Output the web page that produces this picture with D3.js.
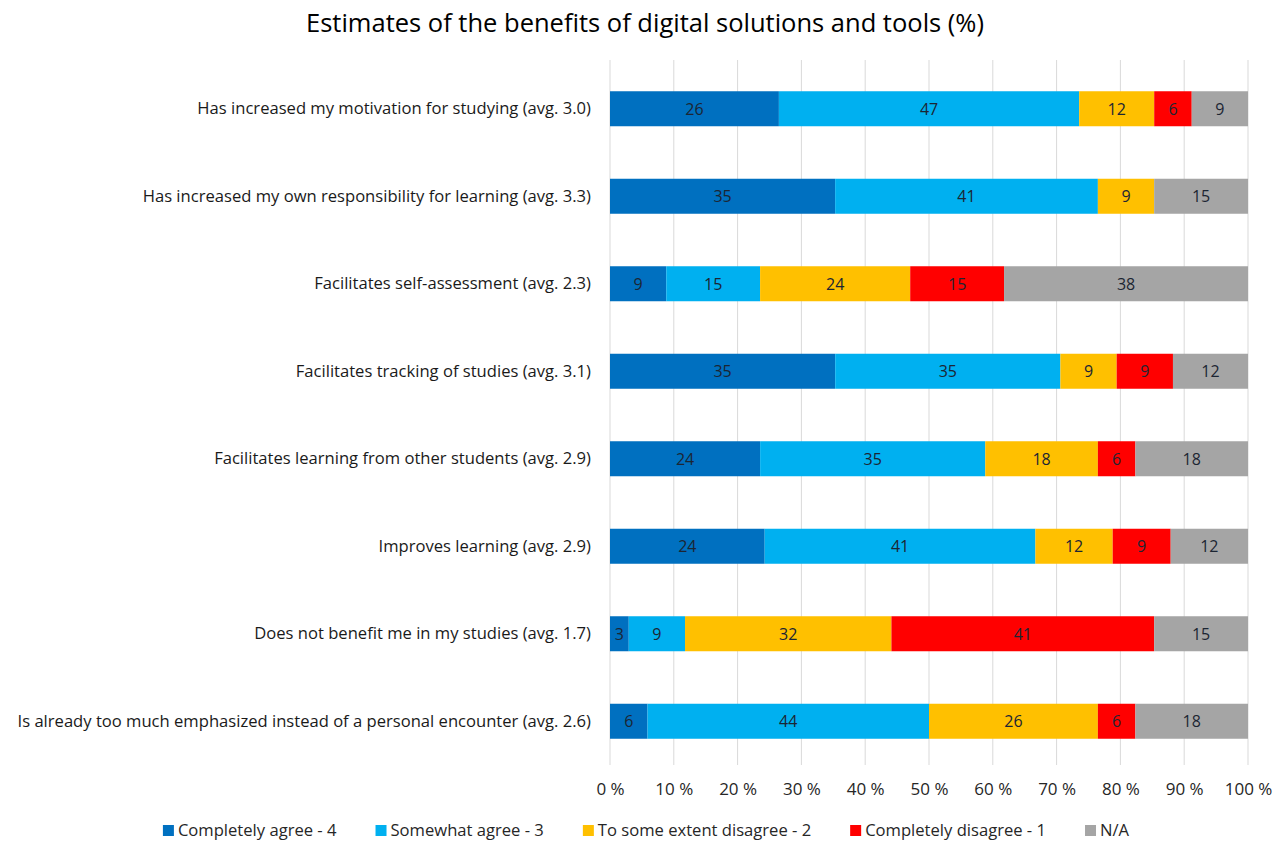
<!DOCTYPE html>
<html lang="en">
<head>
    <meta charset="UTF-8">
    <title>Estimates of the benefits of digital solutions and tools</title>
    <style>
        body {
            margin: 0;
            background: #fff;
        }
        #chart text {
            font-family: "Open Sans", "Noto Sans", sans-serif;
        }
    </style>
</head>
<body>
<div id="chart"></div>

<script src="https://cdn.jsdelivr.net/npm/d3@7"></script>
<script>
    // data (% of respondents, bar labels are rounded)
    const categories = [
        "Has increased my motivation for studying (avg. 3.0)",
        "Has increased my own responsibility for learning (avg. 3.3)",
        "Facilitates self-assessment (avg. 2.3)",
        "Facilitates tracking of studies (avg. 3.1)",
        "Facilitates learning from other students (avg. 2.9)",
        "Improves learning (avg. 2.9)",
        "Does not benefit me in my studies (avg. 1.7)",
        "Is already too much emphasized instead of a personal encounter (avg. 2.6)"
    ];
    const seriesNames = ["Completely agree - 4", "Somewhat agree - 3", "To some extent disagree - 2", "Completely disagree - 1", "N/A"];
    const completelyAgree    = [26.47, 35.29,  8.82, 35.29, 23.53, 23.53,  2.94,  5.88];
    const somewhatAgree      = [47.06, 41.18, 14.71, 35.29, 35.29, 41.18,  8.82, 44.12];
    const someDisagree       = [11.76,  8.82, 23.53,  8.82, 17.65, 11.76, 32.35, 26.47];
    const completelyDisagree = [ 5.88,  0.00, 14.71,  8.82,  5.88,  8.82, 41.18,  5.88];
    const notApplicable      = [ 8.82, 14.71, 38.24, 11.76, 17.65, 11.76, 14.71, 17.65];
    const xTicks = [0, 0.1, 0.2, 0.3, 0.4, 0.5, 0.6, 0.7, 0.8, 0.9, 1];

    const colors = ["#0070c0", "#00b0f0", "#ffc000", "#ff0000", "#a5a5a5"];
    const series = [completelyAgree, somewhatAgree, someDisagree, completelyDisagree, notApplicable];

    const width = 1282, height = 843;

    // table for d3.stack
    const rows = categories.map((c, i) => {
        let r = {category: c};
        seriesNames.forEach((s, j) => r[s] = series[j][i]);
        return r;
    });

    // 100% stacked
    const stacked = d3.stack()
        .keys(seriesNames)
        .offset(d3.stackOffsetExpand)(rows);

    const x = d3.scaleLinear().domain([0, 1]).range([610, 1248]);
    const y = d3.scaleBand()
        .domain(categories)
        .range([65, 765])
        .paddingInner(0.6)
        .paddingOuter(0.3);

    const svg = d3.select("#chart").append("svg")
        .attr("width", width)
        .attr("height", height);

    // title
    svg.append("text")
        .attr("x", 645)
        .attr("y", 32)
        .attr("text-anchor", "middle")
        .style("font-size", "25.5px")
        .style("fill", "#000")
        .text("Estimates of the benefits of digital solutions and tools (%)");

    // gridlines
    svg.append("g")
        .selectAll("line")
        .data(xTicks)
        .enter().append("line")
        .attr("x1", d => x(d)).attr("x2", d => x(d))
        .attr("y1", 60).attr("y2", 765)
        .style("stroke", "#d9d9d9")
        .style("stroke-width", 1);

    // x axis labels
    const xAxis = d3.axisBottom(x)
        .tickValues(xTicks)
        .tickFormat(d => Math.round(d * 100) + " %")
        .tickSize(0)
        .tickPadding(0);
    const gx = svg.append("g")
        .attr("transform", "translate(0,783)")
        .call(xAxis);
    gx.select(".domain").remove();
    gx.selectAll("text")
        .style("font-size", "17px")
        .style("fill", "#262626");

    // category labels
    const yAxis = d3.axisLeft(y).tickSize(0).tickPadding(19);
    const gy = svg.append("g")
        .attr("transform", "translate(610,0)")
        .call(yAxis);
    gy.select(".domain").remove();
    gy.selectAll("text")
        .style("font-size", "16.6px")
        .style("fill", "#1a1a1a");

    // bars
    const layers = svg.append("g")
        .selectAll("g")
        .data(stacked)
        .enter().append("g")
        .style("fill", (d, i) => colors[i]);

    layers.selectAll("rect")
        .data(d => d)
        .enter().append("rect")
        .attr("x", d => x(d[0]))
        .attr("y", d => y(d.data.category))
        .attr("width", d => x(d[1]) - x(d[0]))
        .attr("height", y.bandwidth());

    // value labels
    layers.selectAll("text")
        .data(d => d.map(v => ({v: v, key: d.key})))
        .enter().filter(d => d.v.data[d.key] > 0)
        .append("text")
        .attr("x", d => (x(d.v[0]) + x(d.v[1])) / 2)
        .attr("y", d => y(d.v.data.category) + y.bandwidth() / 2)
        .attr("dy", "0.36em")
        .attr("text-anchor", "middle")
        .style("font-size", "16px")
        .style("fill", "#1c2533")
        .text(d => Math.round(d.v.data[d.key]));

    // legend, laid out from text widths and centred
    const legend = svg.append("g");
    const items = legend.selectAll("g")
        .data(seriesNames)
        .enter().append("g");
    items.append("rect")
        .attr("width", 11)
        .attr("height", 11)
        .attr("y", -11)
        .style("fill", (d, i) => colors[i]);
    items.append("text")
        .attr("x", 15)
        .attr("y", -5.5)
        .attr("dy", "0.36em")
        .style("font-size", "16.6px")
        .style("fill", "#262626")
        .text(d => d);

    let pos = 0;
    items.each(function () {
        d3.select(this).attr("transform", "translate(" + pos + ",0)");
        pos += 15 + d3.select(this).select("text").node().getComputedTextLength() + 39;
    });
    pos -= 39;
    legend.attr("transform", "translate(" + (646 - pos / 2) + ",836)");
</script>
</body>
</html>
